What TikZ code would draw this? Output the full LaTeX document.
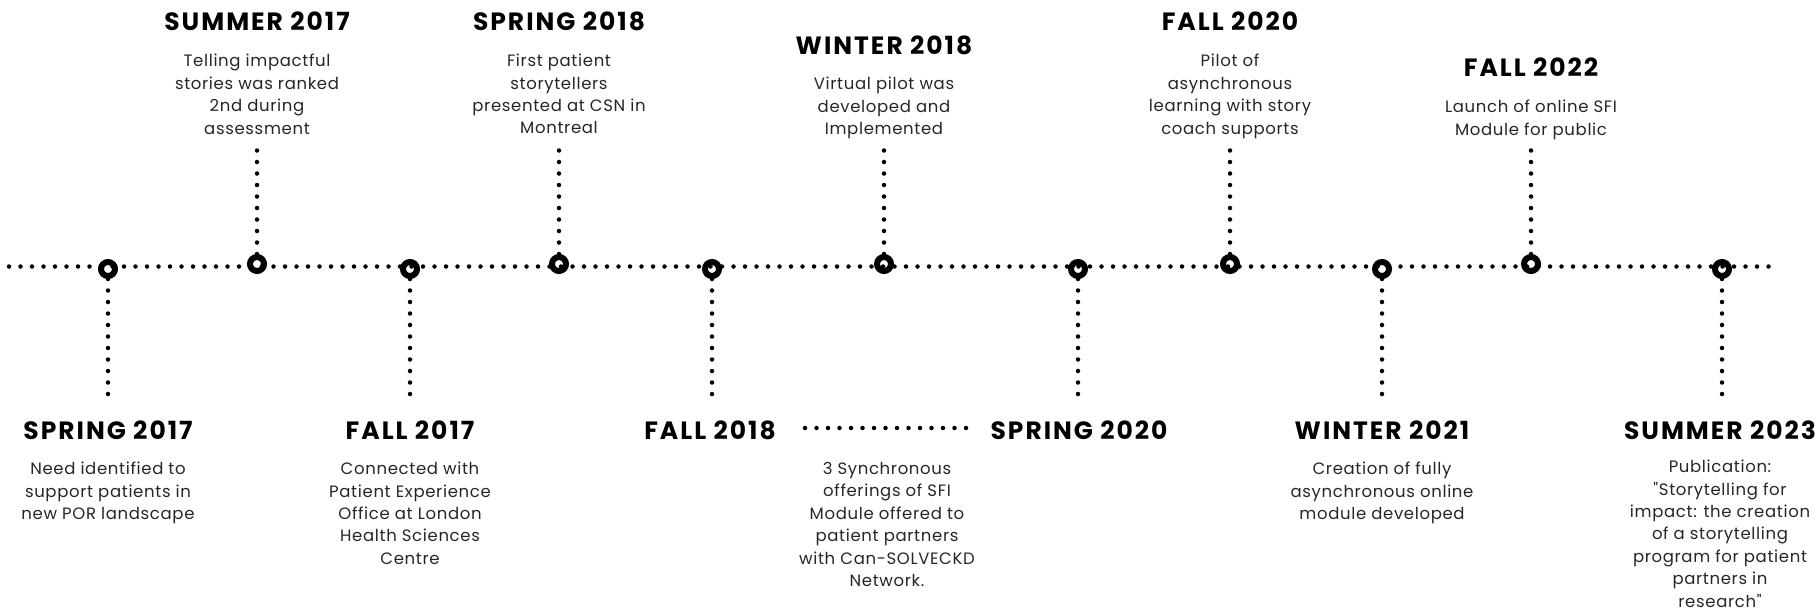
\documentclass[tikz,border=0pt]{standalone}
\usepackage{fontspec}
\newfontfamily\bodyfont{Poppins}[LetterSpace=4]
\newfontfamily\headfont{Poppins}[LetterSpace=8]
\begin{document}
\begin{tikzpicture}[x=1pt,y=-1pt,
  dotline/.style={line width=4.5pt, line cap=round, dash pattern=on 0pt off 11.5pt},
  marker/.style={circle, draw, line width=6pt, minimum size=14pt, inner sep=0pt},
  heading/.style={font=\headfont\bfseries\fontsize{25}{29}\selectfont, inner sep=0pt},
  desc/.style={font=\bodyfont\fontsize{16.5}{22.4}\selectfont, text=black!85, align=center, inner sep=0pt, anchor=north}]
\useasboundingbox (0,0) rectangle (1816,611);
% main line
\coordinate (L) at (9,266.5);
\coordinate (R) at (1775,266.5);
\draw[dotline] (L) -- (R);
% markers
\foreach \n/\x in {2/257,4/559,6/884,8/1230,10/1531}{
  \node[marker] (m\n) at (\x,264) {};
  \coordinate (e\n) at (\x,150);
  \draw[dotline] (m\n) -- (e\n);
}
\foreach \n/\x in {1/108,3/410,5/712,7/1078,9/1382,11/1722}{
  \node[marker] (m\n) at (\x,269) {};
  \coordinate (e\n) at (\x,402);
  \draw[dotline] (m\n) -- (e\n);
}
% top labels
\node[heading] (h2) at (257,21) {SUMMER 2017};
\node[desc] (d2) at (257,54) {Telling impactful\\stories was ranked\\2nd during\\assessment};
\node[heading] (h4) at (559,21) {SPRING 2018};
\node[desc] (d4) at (559,54) {First patient\\storytellers\\presented at CSN in\\Montreal};
\node[heading] (h6) at (884,45) {WINTER 2018};
\node[desc] (d6) at (884,77) {Virtual pilot was\\developed and\\Implemented};
\node[heading] (h8) at (1230,21) {FALL 2020};
\node[desc] (d8) at (1230,54) {Pilot of\\asynchronous\\learning with story\\coach supports};
\node[heading] (h10) at (1531,67) {FALL 2022};
\node[desc] (d10) at (1531,100) {Launch of online SFI\\Module for public};
% bottom labels
\node[heading] (h1) at (108,430) {SPRING 2017};
\node[desc] (d1) at (108,462) {Need identified to\\support patients in\\new POR landscape};
\node[heading] (h3) at (410,430) {FALL 2017};
\node[desc] (d3) at (410,462) {Connected with\\Patient Experience\\Office at London\\Health Sciences\\Centre};
\node[heading] (h5) at (710,430) {FALL 2018};
\node[heading] (h7) at (1079,430) {SPRING 2020};
\coordinate (s1) at (805,428);
\coordinate (s2) at (975,428);
\draw[dotline] (s1) -- (s2);
\node[desc] (d5) at (887,462) {3 Synchronous\\offerings of SFI\\Module offered to\\patient partners\\with Can-SOLVECKD\\Network.};
\node[heading] (h9) at (1382,430) {WINTER 2021};
\node[desc] (d9) at (1382,462) {Creation of fully\\asynchronous online\\module developed};
\node[heading] (h11) at (1720,430) {SUMMER 2023};
\node[desc] (d11) at (1720,460) {Publication:\\"Storytelling for\\impact: the creation\\of a storytelling\\program for patient\\partners in\\research"};
\end{tikzpicture}
\end{document}
